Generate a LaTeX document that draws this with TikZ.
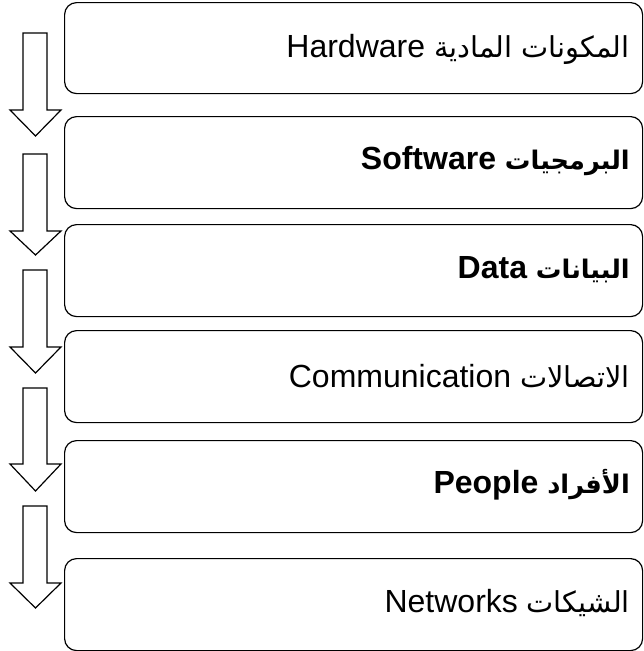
\documentclass[tikz,border=0pt]{standalone}
\usepackage{fontspec}
\setmainfont{Liberation Sans}
\newfontfamily\arabicfont[Script=Arabic,Scale=0.9]{DejaVu Sans}
\newfontfamily\arabicbf[Script=Arabic,Scale=0.8]{DejaVu Sans}
\TeXXeTstate=1
\newcommand\dnarr[3]{%
  \draw[blk] (23,#1) -- (47,#1) -- (47,#2) -- (61,#2) -- (35.5,#3) -- (10,#2) -- (23,#2) -- cycle;}
\begin{document}
\begin{tikzpicture}[x=1pt,y=-1pt,
  box/.style={draw, line width=1.2pt, rounded corners=12pt, minimum width=578pt, anchor=north west, inner sep=0pt},
  lbl/.style={anchor=base east, inner sep=0pt, font=\fontsize{32}{38}\selectfont},
  blk/.style={draw, line width=1.2pt, line join=miter}]
\useasboundingbox (0,0) rectangle (644,651);
% boxes
\node[box, minimum height=91pt] (b1) at (64,2) {};
\node[box, minimum height=92pt] (b2) at (64,116) {};
\node[box, minimum height=92pt] (b3) at (64,224) {};
\node[box, minimum height=92pt] (b4) at (64,330) {};
\node[box, minimum height=92pt] (b5) at (64,440) {};
\node[box, minimum height=92pt] (b6) at (64,558) {};
% labels
\node[lbl] (t1) at (630,57) {Hardware {\arabicfont\beginR المكونات المادية\endR}};
\node[lbl] (t2) at (630,169) {\bfseries Software {\arabicbf\bfseries\beginR البرمجيات\endR}};
\node[lbl] (t3) at (630,278) {\bfseries Data {\arabicbf\bfseries\beginR البيانات\endR}};
\node[lbl] (t4) at (630,387) {Communication {\arabicfont\beginR الاتصالات\endR}};
\node[lbl] (t5) at (630,493) {\bfseries People {\arabicbf\bfseries\beginR الأفراد\endR}};
\node[lbl] (t6) at (630,612) {Networks {\arabicfont\beginR الشيكات\endR}};
% arrows
\dnarr{33}{110}{136}
\dnarr{154}{231}{255}
\dnarr{270}{347}{373}
\dnarr{388}{464}{491}
\dnarr{506}{583}{608}
\end{tikzpicture}
\end{document}
